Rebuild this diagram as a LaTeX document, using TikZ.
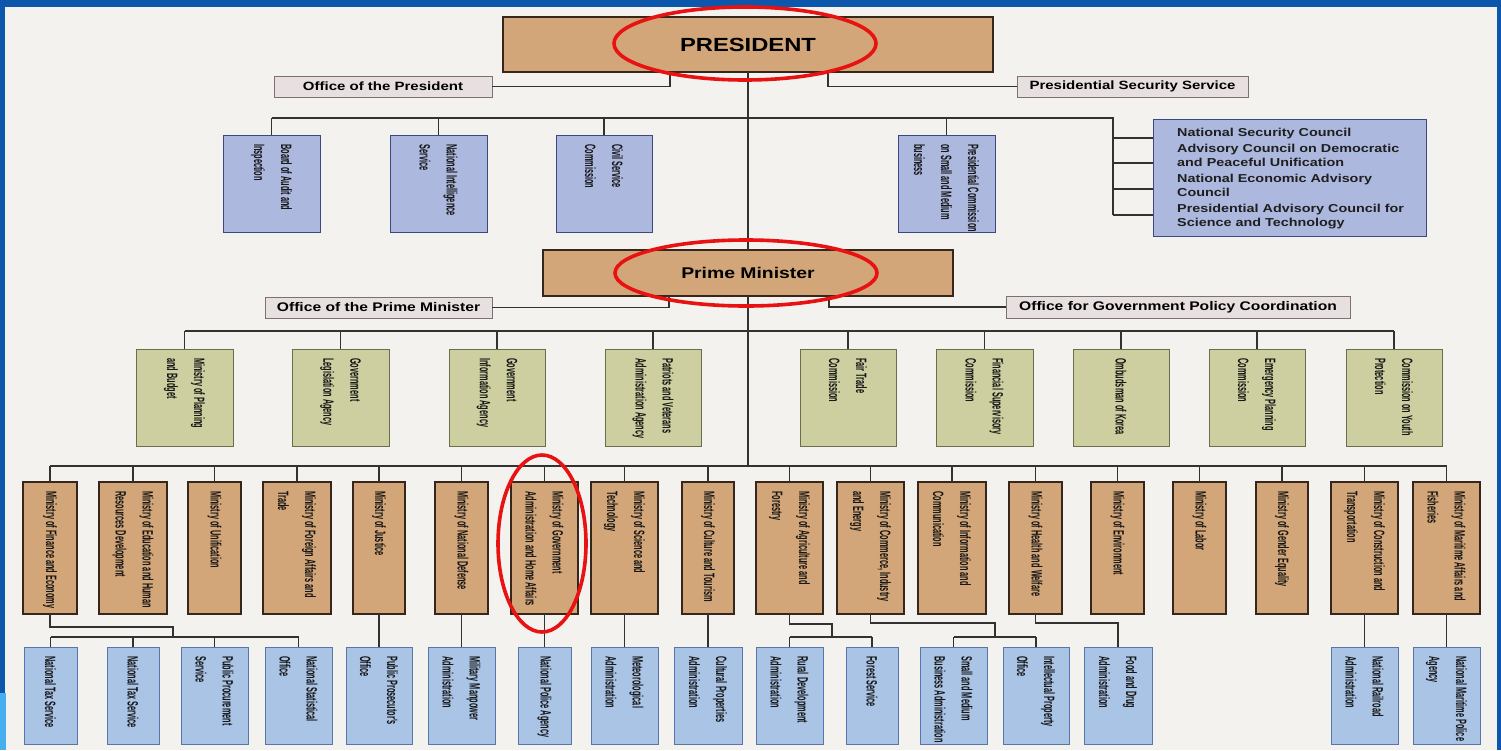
\documentclass[tikz,border=0pt]{standalone}
\usepackage{fontspec}
\setmainfont{Liberation Sans}
\newfontfamily\hfont[FakeStretch=1.25]{Liberation Sans}
\newfontfamily\vfont[FakeStretch=0.49]{Liberation Sans}
\definecolor{framec}{RGB}{12,86,172}
\definecolor{cyanc}{RGB}{70,175,240}
\definecolor{paper}{RGB}{243,242,238}
\definecolor{tanfill}{RGB}{210,166,120}
\definecolor{tanline}{RGB}{55,38,28}
\definecolor{grnfill}{RGB}{205,207,160}
\definecolor{grnline}{RGB}{105,110,78}
\definecolor{pblue}{RGB}{172,184,222}
\definecolor{pblueline}{RGB}{62,72,125}
\definecolor{bfill}{RGB}{170,196,230}
\definecolor{bline}{RGB}{88,118,170}
\definecolor{offfill}{RGB}{232,224,224}
\definecolor{offline}{RGB}{125,112,112}
\definecolor{linec}{RGB}{50,50,50}
\definecolor{ringc}{RGB}{232,18,18}
\tikzset{
  boxbase/.style={rectangle, inner sep=0pt, outer sep=0pt},
  presbox/.style={boxbase, fill=tanfill, draw=tanline, line width=2pt, font=\hfont\bfseries},
  minbox/.style={boxbase, fill=tanfill, draw=tanline, line width=1.5pt},
  grnbox/.style={boxbase, fill=grnfill, draw=grnline, line width=1pt},
  pbbox/.style={boxbase, fill=pblue, draw=pblueline, line width=1pt},
  bluebox/.style={boxbase, fill=bfill, draw=bline, line width=1pt},
  offbox/.style={boxbase, fill=offfill, draw=offline, line width=0.9pt, font=\hfont\bfseries\fontsize{12}{14}\selectfont},
  offbox2/.style={offbox, font=\hfont\bfseries\fontsize{12.5}{14}\selectfont},
  vtext/.style={rotate=-90, anchor=west, align=left, inner sep=0pt, text=black!92, font=\vfont\bfseries\fontsize{15}{27}\selectfont},
  conn/.style={draw=linec, line width=1.2pt},
  redring/.style={draw=ringc, line width=3.6pt},
}
\newcommand\orgbox[7]{%
  \node[#1, minimum width={(#4-#3)*1pt}, minimum height={(#6-#5)*1pt}] (#2) at ({(#3+#4)/2},{(#5+#6)/2}) {};
  \node[vtext] (#2t) at ({(#3+#4)/2},{#5+9}) {#7};
}
\begin{document}
\begin{tikzpicture}[x=1pt,y=-1pt]
\useasboundingbox (0,0) rectangle (1501,750);
\fill[framec] (0,0) rectangle (1501,750);
\fill[paper] (5,7) rectangle (1497,750);
\fill[cyanc] (0,693) rectangle (6,750);

% ---------- top level
\node[presbox, minimum width=490pt, minimum height=55pt, font=\hfont\bfseries\fontsize{19}{20}\selectfont] (pres) at (748,44.5) {PRESIDENT};
\node[offbox, minimum width=218pt, minimum height=21pt] (op) at (383,86.5) {Office of the President};
\node[offbox, minimum width=231pt, minimum height=21pt] (pss) at (1132.5,86.5) {Presidential Security Service};

% presidential agencies
\orgbox{pbbox}{p1}{223}{320}{135}{232}{Board of Audit and\\Inspection}
\orgbox{pbbox}{p2}{390}{487}{135}{232}{National Intelligence\\Service}
\orgbox{pbbox}{p3}{556}{652}{135}{232}{Civil Service\\Commission}
\orgbox{pbbox}{p4}{898}{995}{135}{232}{Presidential Commission\\on Small and Medium\\business}
\node[pbbox, minimum width=273pt, minimum height=117pt] (adv) at (1289.5,177.5) {};
\node[anchor=north west, inner sep=0pt, align=left, font=\hfont\bfseries\fontsize{11.5}{14}\selectfont, text=black!88] (advt) at (1177,127.5)
 {National Security Council\\[2pt]
  Advisory Council on Democratic\\
  and Peaceful Unification\\[2pt]
  National Economic Advisory\\
  Council\\[2pt]
  Presidential Advisory Council for\\
  Science and Technology};

% ---------- prime minister
\node[presbox, minimum width=410pt, minimum height=46pt, font=\hfont\bfseries\fontsize{15.5}{17}\selectfont] (pm) at (748,273) {Prime Minister};
\node[offbox2, minimum width=227pt, minimum height=21pt] (opm) at (378.5,307.5) {Office of the Prime Minister};
\node[offbox2, minimum width=344pt, minimum height=22pt] (ogpc) at (1178,307) {Office for Government Policy Coordination};

\orgbox{grnbox}{g1}{136}{233}{349}{446}{Ministry of Planning\\and Budget}
\orgbox{grnbox}{g2}{292}{389}{349}{446}{Government\\Legislation Agency}
\orgbox{grnbox}{g3}{449}{545}{349}{446}{Government\\Information Agency}
\orgbox{grnbox}{g4}{605}{701}{349}{446}{Patriots and Veterans\\Administration Agency}
\orgbox{grnbox}{g5}{800}{896}{349}{446}{Fair Trade\\Commission}
\orgbox{grnbox}{g6}{936}{1033}{349}{446}{Financial Supervisory\\Commission}
\orgbox{grnbox}{g7}{1073}{1169}{349}{446}{Ombudsman of Korea}
\orgbox{grnbox}{g8}{1209}{1305}{349}{446}{Emergency Planning\\Commission}
\orgbox{grnbox}{g9}{1346}{1442}{349}{446}{Commission on Youth\\Protection}

% ---------- ministries
\orgbox{minbox}{m1}{23}{77}{482}{614}{Ministry of Finance and Economy}
\orgbox{minbox}{m2}{99}{167}{482}{614}{Ministry of Education and Human\\Resources Development}
\orgbox{minbox}{m3}{188}{241}{482}{614}{Ministry of Unification}
\orgbox{minbox}{m4}{263}{331}{482}{614}{Ministry of Foreign Affairs and\\Trade}
\orgbox{minbox}{m5}{353}{405}{482}{614}{Ministry of Justice}
\orgbox{minbox}{m6}{435}{488}{482}{614}{Ministry of National Defense}
\orgbox{minbox}{m7}{511}{578}{482}{614}{Ministry of Government\\Administration and Home Affairs}
\orgbox{minbox}{m8}{591}{658}{482}{614}{Ministry of Science and\\Technology}
\orgbox{minbox}{m9}{682}{734}{482}{614}{Ministry of Culture and Tourism}
\orgbox{minbox}{m10}{756}{823}{482}{614}{Ministry of Agriculture and\\Forestry}
\orgbox{minbox}{m11}{837}{904}{482}{614}{Ministry of Commerce, Industry\\and Energy}
\orgbox{minbox}{m12}{918}{986}{482}{614}{Ministry of Information and\\Communication}
\orgbox{minbox}{m13}{1009}{1062}{482}{614}{Ministry of Health and Welfare}
\orgbox{minbox}{m14}{1091}{1144}{482}{614}{Ministry of Environment}
\orgbox{minbox}{m15}{1173}{1226}{482}{614}{Ministry of Labor}
\orgbox{minbox}{m16}{1256}{1308}{482}{614}{Ministry of Gender Equality}
\orgbox{minbox}{m17}{1331}{1398}{482}{614}{Ministry of Construction and\\Transportation}
\orgbox{minbox}{m18}{1413}{1480}{482}{614}{Ministry of Maritime Affairs and\\Fisheries}

% ---------- agencies under ministries
\orgbox{bluebox}{b1}{24}{77}{647}{744}{National Tax Service}
\orgbox{bluebox}{b2}{107}{159}{647}{744}{National Tax Service}
\orgbox{bluebox}{b3}{181}{248}{647}{744}{Public Procurement\\Service}
\orgbox{bluebox}{b4}{265}{332}{647}{744}{National Statistical\\Office}
\orgbox{bluebox}{b5}{346}{412}{647}{744}{Public Prosecutor's\\Office}
\orgbox{bluebox}{b6}{428}{495}{647}{744}{Military Manpower\\Administration}
\orgbox{bluebox}{b7}{518}{571}{647}{744}{National Police Agency}
\orgbox{bluebox}{b8}{591}{658}{647}{744}{Meteorological\\Administration}
\orgbox{bluebox}{b9}{674}{742}{647}{744}{Cultural Properties\\Administration}
\orgbox{bluebox}{b10}{756}{823}{647}{744}{Rural Development\\Administration}
\orgbox{bluebox}{b11}{846}{898}{647}{744}{Forest Service}
\orgbox{bluebox}{b12}{920}{987}{647}{744}{Small and Medium\\Business Administration}
\orgbox{bluebox}{b13}{1003}{1069}{647}{744}{Intellectual Property\\Office}
\orgbox{bluebox}{b14}{1084}{1152}{647}{744}{Food and Drug\\Administration}
\orgbox{bluebox}{b15}{1331}{1398}{647}{744}{National Railroad\\Administration}
\orgbox{bluebox}{b16}{1413}{1480}{647}{744}{National Maritime Police\\Agency}

% ---------- connectors
\coordinate (rj) at (1113,118);
\coordinate (aj) at (748,331);
\coordinate (mj) at (748,466);

\draw[conn] (pres.south) -- (pm.north);
\draw[conn] (pm.south) -- (pm.south |- mj);
\draw[conn] (op.east) -| (pres.south -| 670,0);
\draw[conn] (pss.west) -| (pres.south -| 828,0);
\draw[conn] (opm.east) -| (pm.south -| 669,0);
\draw[conn] (ogpc.west) -| (pm.south -| 829,0);

\draw[conn] (p1.north |- rj) -- (rj) -- (rj |- 0,215);
\foreach \n in {p1,p2,p3,p4} \draw[conn] (\n.north) -- (\n.north |- rj);
\foreach \yy in {138,163,189,215} \draw[conn] (rj |- 0,\yy) -- (adv.west |- 0,\yy);

\draw[conn] (g1.north |- aj) -- (g9.north |- aj);
\foreach \n in {g1,g2,g3,g4,g5,g6,g7,g8,g9} \draw[conn] (\n.north) -- (\n.north |- aj);

\draw[conn] (m1.north |- mj) -- (m18.north |- mj);
\foreach \n in {m1,m2,m3,m4,m5,m6,m7,m8,m9,m10,m11,m12,m13,m14,m15,m16,m17,m18}
  \draw[conn] (\n.north) -- (\n.north |- mj);

% finance
\draw[conn] (m1.south) |- (173,627) -- (173,637);
\draw[conn] (b1.north |- 0,637) -- (b4.north |- 0,637);
\foreach \n in {b1,b2,b3,b4} \draw[conn] (\n.north) -- (\n.north |- 0,637);
% direct links
\draw[conn] (m5.south) -- (b5.north);
\draw[conn] (m6.south) -- (b6.north);
\draw[conn] (m7.south) -- (b7.north);
\draw[conn] (m8.south) -- (b8.north);
\draw[conn] (m9.south) -- (b9.north);
\draw[conn] (m17.south) -- (b15.north);
\draw[conn] (m18.south) -- (b16.north);
% agriculture
\draw[conn] (m10.south) |- (832,624) -- (832,637);
\draw[conn] (b10.north |- 0,637) -- (b11.north |- 0,637);
\foreach \n in {b10,b11} \draw[conn] (\n.north) -- (\n.north |- 0,637);
% commerce
\draw[conn] (m11.south) |- (995,623) -- (995,637);
\draw[conn] (b12.north |- 0,637) -- (b13.north |- 0,637);
\foreach \n in {b12,b13} \draw[conn] (\n.north) -- (\n.north |- 0,637);
% health
\draw[conn] (m13.south) |- (b14.north |- 0,623) -- (b14.north);

% ---------- red highlight rings
\draw[redring] (745,43.5) ellipse [x radius=131, y radius=36.5];
\draw[redring] (746,273) ellipse [x radius=131, y radius=33];
\draw[redring] (542,543.5) ellipse [x radius=44, y radius=88.5];
\end{tikzpicture}
\end{document}
